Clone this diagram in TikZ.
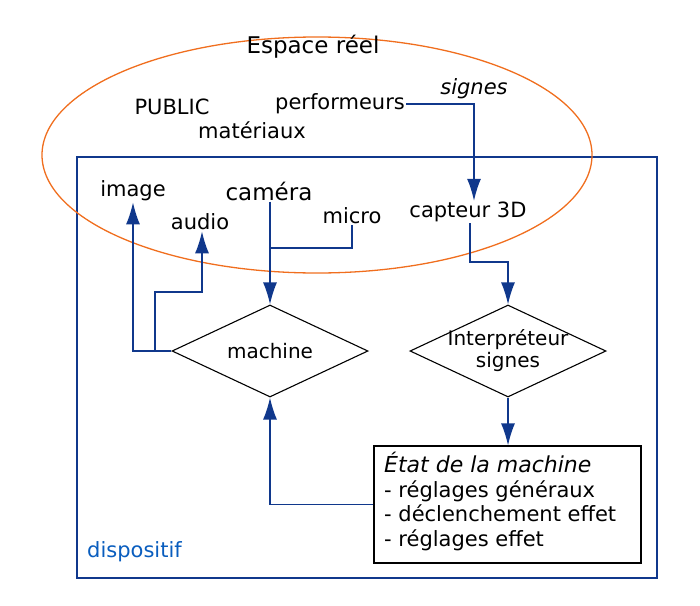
\documentclass[tikz,border=0pt]{standalone}
\usepackage{fontspec}
\setmainfont{DejaVu Sans}
\usetikzlibrary{arrows.meta,shapes.geometric}
\definecolor{dblue}{RGB}{16,56,140}
\definecolor{orng}{RGB}{240,110,30}
\begin{document}
\begin{tikzpicture}[x=1pt,y=-1pt,
  lbl/.style={font=\fontsize{21}{24}\selectfont,inner sep=1pt},
  con/.style={draw=dblue,line width=1.4pt},
  arr/.style={con,-{Latex[length=22pt,width=14pt]}},
  dia/.style={draw,diamond,aspect=2.1,minimum width=196pt,minimum height=92pt,inner sep=-14pt,line width=1.1pt,font=\fontsize{20}{22}\selectfont,align=center}]
\useasboundingbox (0,0) rectangle (700,605);
\node[draw=dblue,line width=1.3pt,minimum width=580pt,minimum height=421pt,inner sep=0pt] (disp) at (367,367.5) {};
\node[draw=orng,line width=1.3pt,ellipse,minimum width=550pt,minimum height=236pt,inner sep=0pt] (ell) at (317,155) {};
\node[lbl,font=\fontsize{23}{26}\selectfont] (esp) at (313,47) {Espace réel};
\node[lbl] (pub) at (172,107) {PUBLIC};
\node[lbl] (mat) at (252,130) {matériaux};
\node[lbl] (perf) at (340,104) {performeurs};
\node[lbl,font=\fontsize{21}{24}\selectfont\itshape] (sig) at (474,89) {signes};
\node[lbl] (img) at (133,191) {image};
\node[lbl] (aud) at (200,222) {audio};
\node[lbl,font=\fontsize{23}{26}\selectfont] (cam) at (269,191) {caméra};
\node[lbl] (mic) at (352,216) {micro};
\node[lbl] (cap) at (468,212) {capteur 3D};
\node[dia] (mach) at (270,351) {machine};
\node[dia] (interp) at (508,351) {Interpréteur\\signes};
\node[draw,line width=1.1pt,minimum width=267pt,minimum height=117pt,inner sep=0pt] (etat) at (507.5,504.5) {};
\node[anchor=north west,align=left,font=\fontsize{21}{24.5}\selectfont,inner sep=0pt] (etxt) at (384,452)
 {{\fontsize{22}{26}\selectfont\itshape État de la machine}\\- réglages généraux\\- déclenchement effet\\- réglages effet};
\node[lbl,text=dblue!70!cyan!80!blue,anchor=west] (dtxt) at (86,552) {dispositif};
\coordinate (p1) at (474,104);
\coordinate (m1) at (352,248);
\coordinate (m2) at (270,248);
\draw[arr] (perf.east) -- (p1) -- (cap.north -| p1);
\draw[arr] (cam.south -| mach.north) -- (mach.north);
\draw[con] (mic.south) -- (m1) -- (m2);
\coordinate (i1) at (133,351);
\draw[arr] (mach.west) -- (i1) -- (img.south -| i1);
\coordinate (a1) at (155,351);
\coordinate (a2) at (155,292);
\coordinate (a3) at (202,292);
\draw[arr] (a1) -- (a2) -- (a3) -- (aud.south -| a3);
\coordinate (c1) at (470,262);
\coordinate (c2) at (508,262);
\draw[arr] (cap.south -| c1) -- (c1) -- (c2) -- (interp.north);
\draw[arr] (interp.south) -- (etat.north -| interp.south);
\coordinate (e1) at (270,504.5);
\draw[arr] (etat.west) -- (e1) -- (mach.south);
\end{tikzpicture}
\end{document}
